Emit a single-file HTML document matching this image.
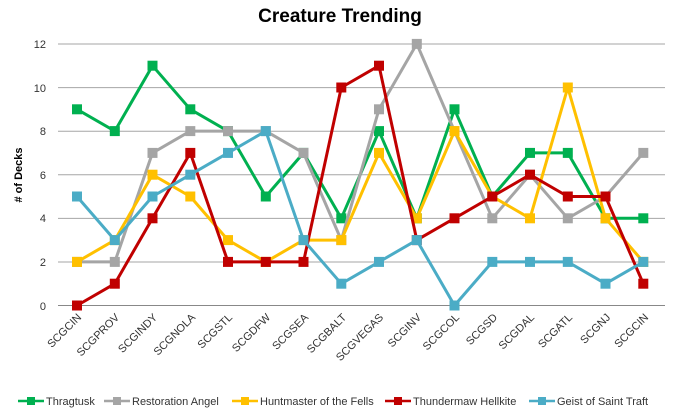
<!DOCTYPE html>
<html><head><meta charset="utf-8"><style>
body{margin:0;background:#fff}
svg{display:block;font-family:"Liberation Sans",sans-serif}
</style></head><body>
<svg id="s" width="675" height="415" viewBox="0 0 675 415">
<text x="340" y="22" text-anchor="middle" font-size="19" font-weight="bold" fill="#000">Creature Trending</text>
<g stroke="#a6a6a6" stroke-width="1">
<line x1="58" y1="44" x2="665" y2="44"/><line x1="58" y1="87.6" x2="665" y2="87.6"/>
<line x1="58" y1="131.2" x2="665" y2="131.2"/><line x1="58" y1="174.8" x2="665" y2="174.8"/>
<line x1="58" y1="218.4" x2="665" y2="218.4"/><line x1="58" y1="262" x2="665" y2="262"/>
<line x1="58" y1="305.5" x2="665" y2="305.5" stroke="#888"/>
</g>
<g font-size="11" fill="#333" text-anchor="end">
<text x="46" y="48">12</text><text x="46" y="92">10</text><text x="46" y="135">8</text>
<text x="46" y="179">6</text><text x="46" y="222">4</text><text x="46" y="266">2</text><text x="46" y="310">0</text>
</g>
<text transform="translate(22,175) rotate(-90)" text-anchor="middle" font-size="11" font-weight="bold" fill="#000"># of Decks</text>
<g font-size="11" fill="#333" text-anchor="end">
<text transform="translate(82,318) rotate(-45)">SCGCIN</text>
<text transform="translate(120,318) rotate(-45)">SCGPROV</text>
<text transform="translate(158,318) rotate(-45)">SCGINDY</text>
<text transform="translate(196,318) rotate(-45)">SCGNOLA</text>
<text transform="translate(233,318) rotate(-45)">SCGSTL</text>
<text transform="translate(271,318) rotate(-45)">SCGDFW</text>
<text transform="translate(309,318) rotate(-45)">SCGSEA</text>
<text transform="translate(347,318) rotate(-45)">SCGBALT</text>
<text transform="translate(384,318) rotate(-45)">SCGVEGAS</text>
<text transform="translate(422,318) rotate(-45)">SCGINV</text>
<text transform="translate(460,318) rotate(-45)">SCGCOL</text>
<text transform="translate(498,318) rotate(-45)">SCGSD</text>
<text transform="translate(535,318) rotate(-45)">SCGDAL</text>
<text transform="translate(573,318) rotate(-45)">SCGATL</text>
<text transform="translate(611,318) rotate(-45)">SCGNJ</text>
<text transform="translate(649,318) rotate(-45)">SCGCIN</text>
</g>
<g id="series"></g>
<g font-size="11" fill="#333">
<line x1="18" y1="401" x2="44" y2="401" stroke="#00b050" stroke-width="2.5"/><rect x="27" y="397" width="8" height="8" fill="#00b050"/>
<text x="46" y="405">Thragtusk</text>
<line x1="104" y1="401" x2="130" y2="401" stroke="#a5a5a5" stroke-width="2.5"/><rect x="113" y="397" width="8" height="8" fill="#a5a5a5"/>
<text x="132" y="405">Restoration Angel</text>
<line x1="232" y1="401" x2="258" y2="401" stroke="#ffc000" stroke-width="2.5"/><rect x="241" y="397" width="8" height="8" fill="#ffc000"/>
<text x="260" y="405">Huntmaster of the Fells</text>
<line x1="385" y1="401" x2="411" y2="401" stroke="#c00000" stroke-width="2.5"/><rect x="394" y="397" width="8" height="8" fill="#c00000"/>
<text x="413" y="405">Thundermaw Hellkite</text>
<line x1="529" y1="401" x2="555" y2="401" stroke="#4bacc6" stroke-width="2.5"/><rect x="538" y="397" width="8" height="8" fill="#4bacc6"/>
<text x="557" y="405">Geist of Saint Traft</text>
</g>
</svg>
<script>
var S=[["#00b050",[9,8,11,9,8,5,7,4,8,4,9,5,7,7,4,4]],
["#a5a5a5",[2,2,7,8,8,8,7,3,9,12,8,4,6,4,5,7]],
["#ffc000",[2,3,6,5,3,2,3,3,7,4,8,5,4,10,4,2]],
["#c00000",[0,1,4,7,2,2,2,10,11,3,4,5,6,5,5,1]],
["#4bacc6",[5,3,5,6,7,8,3,1,2,3,0,2,2,2,1,2]]];
var g=document.getElementById("series"),h="";
S.forEach(function(s){var p=s[1].map(function(v,i){return (77+37.75*i).toFixed(1)+","+(305.5-21.8*v).toFixed(1)});
h+='<polyline points="'+p.join(" ")+'" fill="none" stroke="'+s[0]+'" stroke-width="3" stroke-linejoin="round"/>';
p.forEach(function(q){var a=q.split(",");h+='<rect x="'+(a[0]-5)+'" y="'+(a[1]-5)+'" width="10" height="10" fill="'+s[0]+'"/>';});});
g.innerHTML=h;
</script>
</body></html>
